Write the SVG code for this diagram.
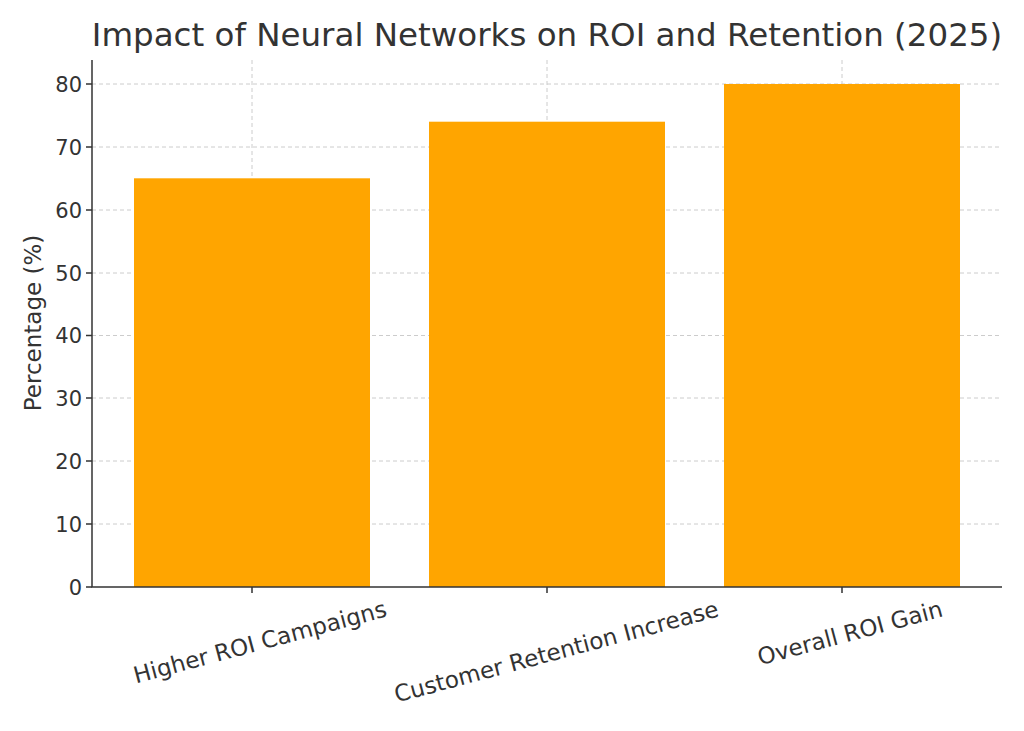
<svg xmlns="http://www.w3.org/2000/svg" width="1024" height="731" viewBox="0 0 1024 731">
<style>
text{font-family:"DejaVu Sans",sans-serif;fill:#333}
.grid{stroke:#ccc;stroke-width:1;stroke-dasharray:4,3;fill:none}
.bar{fill:#FFA500}
.tk{font-size:21px;text-anchor:end}
.ax{stroke:#333;stroke-width:1.5;fill:none}
</style>
<rect width="1024" height="731" fill="#fff"/>
<g id="grid">
<path class="grid" d="M92 524H1002M92 461H1002M92 398H1002M92 335.5H1002M92 273H1002M92 210H1002M92 147H1002M92 84H1002M252 60V587M547 60V587M842 60V587"/>
</g>
<g id="bar1"><rect class="bar" x="134" y="178.3" width="236" height="408.7"/></g>
<g id="bar2"><rect class="bar" x="429" y="121.7" width="236" height="465.3"/></g>
<g id="bar3"><rect class="bar" x="724" y="84" width="236" height="503"/></g>
<g id="axes">
<path class="ax" d="M92 60V587H1002"/>
<path class="ax" d="M86 587H92M86 524H92M86 461H92M86 398H92M86 335.5H92M86 273H92M86 210H92M86 147H92M86 84H92M252 587V593M547 587V593M842 587V593"/>
</g>
<g id="yticks">
<text class="tk" x="82" y="595">0</text>
<text class="tk" x="82" y="532">10</text>
<text class="tk" x="82" y="469">20</text>
<text class="tk" x="82" y="406">30</text>
<text class="tk" x="82" y="343">40</text>
<text class="tk" x="82" y="281">50</text>
<text class="tk" x="82" y="218">60</text>
<text class="tk" x="82" y="155">70</text>
<text class="tk" x="82" y="92">80</text>
</g>
<g id="xlabels">
<text transform="translate(388,616) rotate(-15)" text-anchor="end" font-size="23">Higher ROI Campaigns</text>
<text transform="translate(720,616) rotate(-15)" text-anchor="end" font-size="23">Customer Retention Increase</text>
<text transform="translate(944,616) rotate(-15)" text-anchor="end" font-size="23">Overall ROI Gain</text>
</g>
<text transform="translate(41,323) rotate(-90)" text-anchor="middle" font-size="23">Percentage (%)</text>
<text x="547" y="46" text-anchor="middle" font-size="32.5">Impact of Neural Networks on ROI and Retention (2025)</text>
</svg>
